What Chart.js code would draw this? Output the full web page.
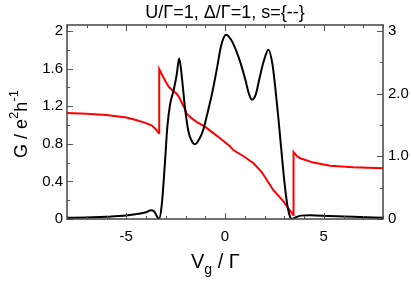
<!DOCTYPE html>
<html><head><meta charset="utf-8">
<script src="https://cdn.jsdelivr.net/npm/chart.js@4/dist/chart.umd.min.js"></script>
<style>html,body{margin:0;padding:0;background:#fff}#wrap{width:411px;height:284px;position:relative}</style>
</head><body><div id="wrap"><canvas id="c" width="411" height="284"></canvas></div>
<script>
const titleText = "U/Γ=1, Δ/Γ=1, s={--}";
const blackX = [-8,-7,-6,-5,-4.5,-4,-3.75,-3.6,-3.45,-3.34,-3.2,-3.05,-2.92,-2.78,-2.6,-2.45,-2.32,-2.18,-2.03,-1.85,-1.68,-1.52,-1.3,-1.1,-0.9,-0.65,-0.4,-0.2,0.05,0.3,0.55,0.8,1.05,1.2,1.36,1.55,1.75,1.95,2.2,2.4,2.55,2.7,2.85,3.0,3.15,3.3,3.39,3.6,3.85,4.3,5.3,6.5,8];
const blackG = [0.012,0.017,0.023,0.036,0.052,0.072,0.093,0.083,0.031,0.0,0.155,0.57,0.98,1.22,1.37,1.53,1.71,1.50,1.19,0.93,0.83,0.795,0.85,0.95,1.115,1.34,1.61,1.84,1.96,1.91,1.80,1.65,1.465,1.34,1.27,1.32,1.50,1.67,1.80,1.65,1.39,1.08,0.74,0.41,0.155,0.02,0.0,0.02,0.036,0.041,0.031,0.023,0.012];
const redX = [-8,-7,-6,-5,-4.5,-4,-3.7,-3.5,-3.34,-3.33,-3.2,-3.0,-2.85,-2.65,-2.45,-2.3,-2.1,-1.94,-1.7,-1.44,-1.0,-0.59,-0.25,0.25,0.42,1.0,1.44,1.86,2.45,2.96,3.38,3.46,3.47,3.65,3.81,4.47,5.33,6.5,8];
const redR = [1.69,1.68,1.66,1.62,1.58,1.53,1.49,1.43,1.37,2.39,2.31,2.19,2.11,2.05,2.00,1.93,1.80,1.68,1.61,1.55,1.47,1.37,1.29,1.16,1.10,0.99,0.89,0.75,0.46,0.28,0.093,0.062,1.07,1.00,0.97,0.90,0.85,0.825,0.81];
const xTicks = [-5,0,5];
const xTickLabels = ["-5","0","5"];
const leftTicks = [0,0.4,0.8,1.2,1.6,2];
const leftTickLabels = ["0","0.4","0.8","1.2","1.6","2"];
const rightTicks = [0,1,2,3];
const rightTickLabels = ["0","1.0","2.0","3"];
const xRange = [-8, 8];
const leftRange = [0, 2.064];
const rightRange = [0, 3.096];

const FONT = '"Liberation Sans", Arial, Helvetica, sans-serif';
const zip = (xs, ys) => xs.map((x, i) => ({x, y: ys[i]}));

function line(ctx, x1, y1, x2, y2){ctx.beginPath();ctx.moveTo(x1,y1);ctx.lineTo(x2,y2);ctx.stroke();}

const framePlugin = {
  id: 'frame',
  afterDraw(chart){
    const {ctx, chartArea:a, scales} = chart;
    ctx.save();
    ctx.strokeStyle = '#555'; ctx.lineWidth = 1;
    const x = scales.x, yl = scales.yL, yr = scales.yR;
    for (let v = -8; v <= 8; v++){
      const p = Math.round(x.getPixelForValue(v)) + 0.5;
      const L = (v % 5 === 0) ? 6 : 3;
      line(ctx, p, a.bottom, p, a.bottom - L);
      line(ctx, p, a.top, p, a.top + L);
    }
    for (let i = 0; i <= 10; i++){
      const v = i * 0.2;
      const p = Math.round(yl.getPixelForValue(v)) + 0.5;
      const L = (i % 2 === 0) ? 6 : 3;
      line(ctx, a.left, p, a.left + L, p);
    }
    for (let i = 0; i <= 6; i++){
      const v = i * 0.5;
      const p = Math.round(yr.getPixelForValue(v)) + 0.5;
      const L = (i % 2 === 0) ? 6 : 3;
      line(ctx, a.right, p, a.right - L, p);
    }
    ctx.strokeStyle = '#444'; ctx.lineWidth = 1.5;
    ctx.strokeRect(a.left, a.top, a.right - a.left, a.bottom - a.top);

    ctx.fillStyle = '#000';
    // title
    ctx.font = '18px ' + FONT;
    ctx.textAlign = 'center'; ctx.textBaseline = 'alphabetic';
    ctx.fillText(titleText, (a.left + a.right) / 2, 18);

    // x axis title: V_g / Γ
    const by = 268;
    ctx.textAlign = 'left';
    const big = '20px ' + FONT, small = '14px ' + FONT;
    let sx = 191;
    ctx.font = big; ctx.fillText('V', sx, by); sx += ctx.measureText('V').width;
    ctx.font = small; ctx.fillText('g', sx, by + 6); sx += ctx.measureText('g').width;
    ctx.font = big; ctx.fillText(' / Γ', sx, by);

    // y axis title: G / e^2 h^-1
    ctx.save();
    ctx.translate(27, 124);
    ctx.rotate(-Math.PI / 2);
    const f1 = '18px ' + FONT, f2 = '13px ' + FONT;
    const parts = [['G / e', f1, 0], ['2', f2, -9], ['h', f1, 0], ['-1', f2, -9]];
    let tw = 0;
    parts.forEach(p => { ctx.font = p[1]; p.push(ctx.measureText(p[0]).width); tw += p[3]; });
    let px = -tw / 2;
    parts.forEach(p => { ctx.font = p[1]; ctx.fillText(p[0], px, p[2]); px += p[3]; });
    ctx.restore();
    ctx.restore();
  }
};

const tickFont = {family: FONT, size: 15};
new Chart(document.getElementById('c'), {
  type: 'line',
  data: {
    datasets: [
      {label: 'G', data: zip(blackX, blackG), yAxisID: 'yL', borderColor: '#000', borderWidth: 2,
       pointRadius: 0, cubicInterpolationMode: 'monotone', fill: false},
      {label: 'R', data: zip(redX, redR), yAxisID: 'yR', borderColor: '#ff0000', borderWidth: 2,
       pointRadius: 0, tension: 0, fill: false}
    ]
  },
  options: {
    responsive: false, animation: false, devicePixelRatio: 1,
    layout: {padding: {top: 25, left: 0, right: 0, bottom: 0}},
    plugins: {legend: {display: false}, title: {display: false}, tooltip: {enabled: false}},
    scales: {
      x: {type: 'linear', min: xRange[0], max: xRange[1],
          grid: {display: false, drawTicks: false}, border: {display: false},
          afterBuildTicks: s => { s.ticks = xTicks.map(v => ({value: v})); },
          afterFit: s => { s.height = 65; },
          ticks: {padding: 9, color: '#000', font: tickFont, maxRotation: 0,
                  callback: (v) => xTickLabels[xTicks.indexOf(v)]}},
      yL: {type: 'linear', position: 'left', min: leftRange[0], max: leftRange[1],
          grid: {display: false, drawTicks: false}, border: {display: false},
          afterBuildTicks: s => { s.ticks = leftTicks.map(v => ({value: v})); },
          afterFit: s => { s.width = 67; },
          ticks: {padding: 4, color: '#000', font: tickFont,
                  callback: (v) => leftTickLabels[leftTicks.indexOf(v)]}},
      yR: {type: 'linear', position: 'right', min: rightRange[0], max: rightRange[1],
          grid: {display: false, drawTicks: false}, border: {display: false},
          afterBuildTicks: s => { s.ticks = rightTicks.map(v => ({value: v})); },
          afterFit: s => { s.width = 28; },
          ticks: {padding: 5, color: '#000', font: tickFont,
                  callback: (v) => rightTickLabels[rightTicks.indexOf(v)]}}
    }
  },
  plugins: [framePlugin]
});
</script>
</body></html>
